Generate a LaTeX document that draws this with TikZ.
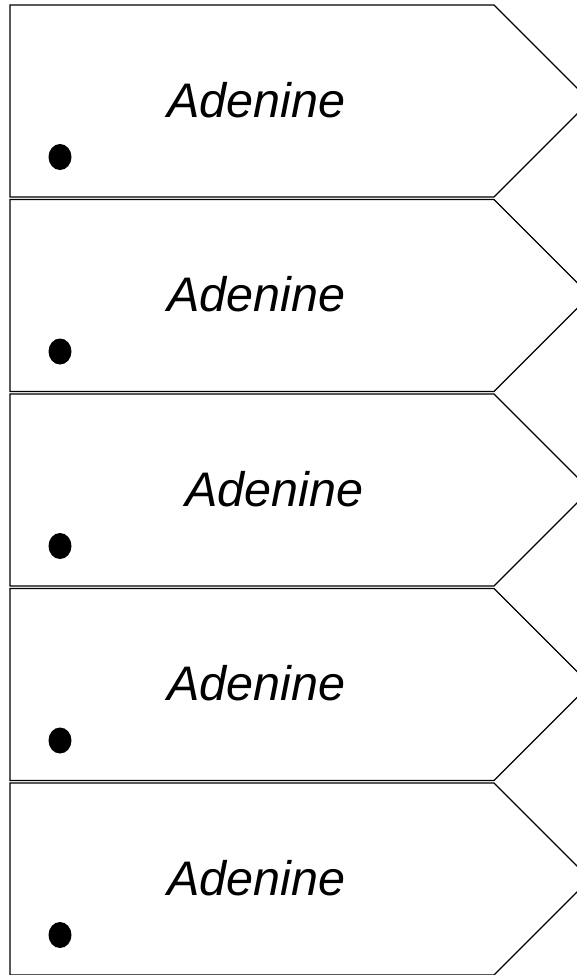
\documentclass[tikz,border=0pt]{standalone}
\usepackage{fontspec}
\setsansfont{Liberation Sans}
\usetikzlibrary{positioning}
\usetikzlibrary{shapes.geometric}
\newcommand{\basebox}[3]{\draw[box] (10,#2) -- (494,#2) -- (590,#2+96) -- (494,#2+192) -- (10,#2+192) -- cycle;
  \node(#1)[base] at (#3,#2+112) {Adenine};
  \node(#1dot)[dot] at (60,#2+152) {}}

\begin{document}
\begin{tikzpicture}[
        x=1pt, y=-1pt,
        box/.style={draw=black,line width=1.3pt,line join=miter},
        base/.style={anchor=base west,inner sep=0pt,
                     font=\fontsize{48.5}{58}\selectfont\sffamily\itshape},
        dot/.style={ellipse,fill=black,inner sep=0pt,
                    minimum width=23pt,minimum height=26pt}
      ]
      \clip (0,0) rectangle (577,975);
      \basebox{a1}{5}{167};
      \basebox{a2}{199.5}{167};
      \basebox{a3}{394}{185};
      \basebox{a4}{588.5}{167};
      \basebox{a5}{783}{167};
    \end{tikzpicture}
\end{document}
